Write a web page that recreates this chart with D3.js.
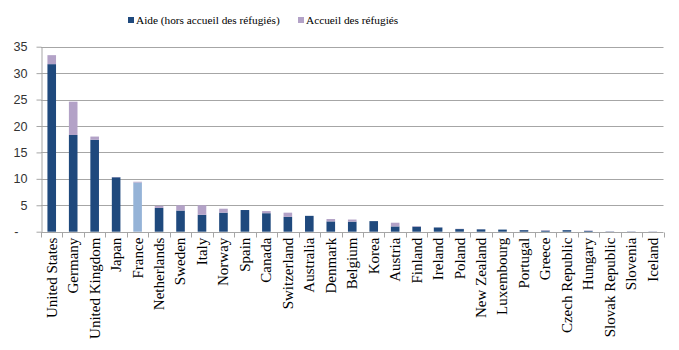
<!DOCTYPE html>
<html>
<head>
<meta charset="utf-8">
<script src="https://cdn.jsdelivr.net/npm/d3@7"></script>
<style>
  body { margin: 0; background: #fff; }
  svg { display: block; }
</style>
</head>
<body>
<div id="chart"></div>
<script>

// data (USD bn)
var countries = ["United States", "Germany", "United Kingdom", "Japan", "France", "Netherlands",
    "Sweden", "Italy", "Norway", "Spain", "Canada", "Switzerland", "Australia", "Denmark",
    "Belgium", "Korea", "Austria", "Finland", "Ireland", "Poland", "New Zealand", "Luxembourg",
    "Portugal", "Greece", "Czech Republic", "Hungary", "Slovak Republic", "Slovenia", "Iceland"];
var aide = [31.7, 18.3, 17.4, 10.3, 9.3, 4.5, 4.0, 3.2, 3.6, 4.1, 3.5, 2.8, 3.0, 1.95,
    1.9, 2.0, 1.0, 0.95, 0.8, 0.5, 0.45, 0.4, 0.3, 0.2, 0.3, 0.15, 0.05, 0.04, 0.03];
var refugies = [1.7, 6.3, 0.6, 0.05, 0.15, 0.4, 1.0, 1.8, 0.75, 0, 0.4, 0.8, 0, 0.45,
    0.4, 0, 0.7, 0.1, 0.02, 0.05, 0.02, 0, 0.02, 0.1, 0.02, 0.08, 0.04, 0.04, 0.03];
var yTicks = [0, 5, 10, 15, 20, 25, 30, 35];
var seriesNames = ["Aide (hors accueil des réfugiés)", "Accueil des réfugiés"];

var width = 679, height = 350;
var plotLeft = 41, plotRight = 663.5, plotTop = 46.7, plotBottom = 231.7;

var dark = "#1f497d", purple = "#b3a2c7", lightBlue = "#95b3d7";

var svg = d3.select("#chart").append("svg")
    .attr("width", width)
    .attr("height", height);

var x = d3.scaleBand().domain(countries).range([plotLeft, plotRight]).padding(0);
var y = d3.scaleLinear().domain([0, 35]).range([plotBottom, plotTop]);
var barW = 8.6;

// gridlines
svg.append("g")
    .selectAll("line")
    .data(yTicks.filter(function (d) { return d > 0 }))
    .join("line")
    .attr("x1", plotLeft)
    .attr("x2", plotRight)
    .attr("y1", function (d) { return Math.round(y(d)) + 0.5 })
    .attr("y2", function (d) { return Math.round(y(d)) + 0.5 })
    .attr("stroke", "#a6a6a6")
    .attr("stroke-width", 1);

// y axis
var yAxis = svg.append("g")
    .attr("transform", "translate(" + (plotLeft + 0.5) + ",0)")
    .call(d3.axisLeft(y).tickValues(yTicks).tickSize(5).tickSizeOuter(0)
        .tickFormat(function (d) { return d === 0 ? "-" : d }));
yAxis.select(".domain").attr("stroke", "#a6a6a6");
yAxis.selectAll(".tick line").attr("stroke", "#a6a6a6");
yAxis.selectAll(".tick text")
    .attr("x", function (d) { return d === 0 ? -23 : -14 })
    .style("font-family", "'Liberation Sans', Arial, sans-serif")
    .style("font-size", "12.6px")
    .attr("fill", "#333");

// bars
var rows = countries.map(function (c, i) {
    return { country: c, aide: aide[i], ref: refugies[i] };
});

var bars = svg.append("g").selectAll("g")
    .data(rows)
    .join("g");

bars.append("rect")
    .attr("x", function (d) { return x(d.country) + (x.bandwidth() - barW) / 2 })
    .attr("width", barW)
    .attr("y", function (d) { return y(d.aide) })
    .attr("height", function (d) { return y(0) - y(d.aide) })
    .attr("fill", function (d) { return d.country === "France" ? lightBlue : dark });

bars.append("rect")
    .attr("x", function (d) { return x(d.country) + (x.bandwidth() - barW) / 2 })
    .attr("width", barW)
    .attr("y", function (d) { return y(d.aide + d.ref) })
    .attr("height", function (d) { return y(d.aide) - y(d.aide + d.ref) })
    .attr("fill", purple);

// x axis with ticks at band boundaries
var xg = svg.append("g");
xg.append("line")
    .attr("x1", plotLeft).attr("x2", plotRight)
    .attr("y1", Math.round(plotBottom) + 0.5).attr("y2", Math.round(plotBottom) + 0.5)
    .attr("stroke", "#a6a6a6");
xg.selectAll(".tk")
    .data(countries.concat(["_end"]))
    .join("line")
    .attr("class", "tk")
    .attr("x1", function (d) { return Math.round(d === "_end" ? plotRight : x(d)) + 0.5 })
    .attr("x2", function (d) { return Math.round(d === "_end" ? plotRight : x(d)) + 0.5 })
    .attr("y1", Math.round(plotBottom) + 0.5)
    .attr("y2", Math.round(plotBottom) + 5.5)
    .attr("stroke", "#a6a6a6");

xg.selectAll(".lbl")
    .data(countries)
    .join("text")
    .attr("class", "lbl")
    .attr("transform", function (d) {
        return "translate(" + (x(d) + x.bandwidth() / 2) + "," + (plotBottom + 6) + ") rotate(-90)";
    })
    .attr("dy", "0.33em")
    .attr("text-anchor", "end")
    .style("font-family", "'Liberation Serif', 'Times New Roman', serif")
    .style("font-size", "15px")
    .attr("fill", "#000")
    .text(function (d) { return d });

// legend
var legendX = [128, 298];
var legend = svg.append("g").selectAll("g")
    .data(seriesNames)
    .join("g")
    .attr("transform", function (d, i) { return "translate(" + legendX[i] + ",17)" });
legend.append("rect")
    .attr("width", 6).attr("height", 6)
    .attr("fill", function (d, i) { return i === 0 ? dark : purple });
legend.append("text")
    .attr("x", 8)
    .attr("y", 6.5)
    .style("font-family", "'Liberation Serif', 'Times New Roman', serif")
    .style("font-size", "11.3px")
    .attr("fill", "#000")
    .text(function (d) { return d });

</script>
</body>
</html>
